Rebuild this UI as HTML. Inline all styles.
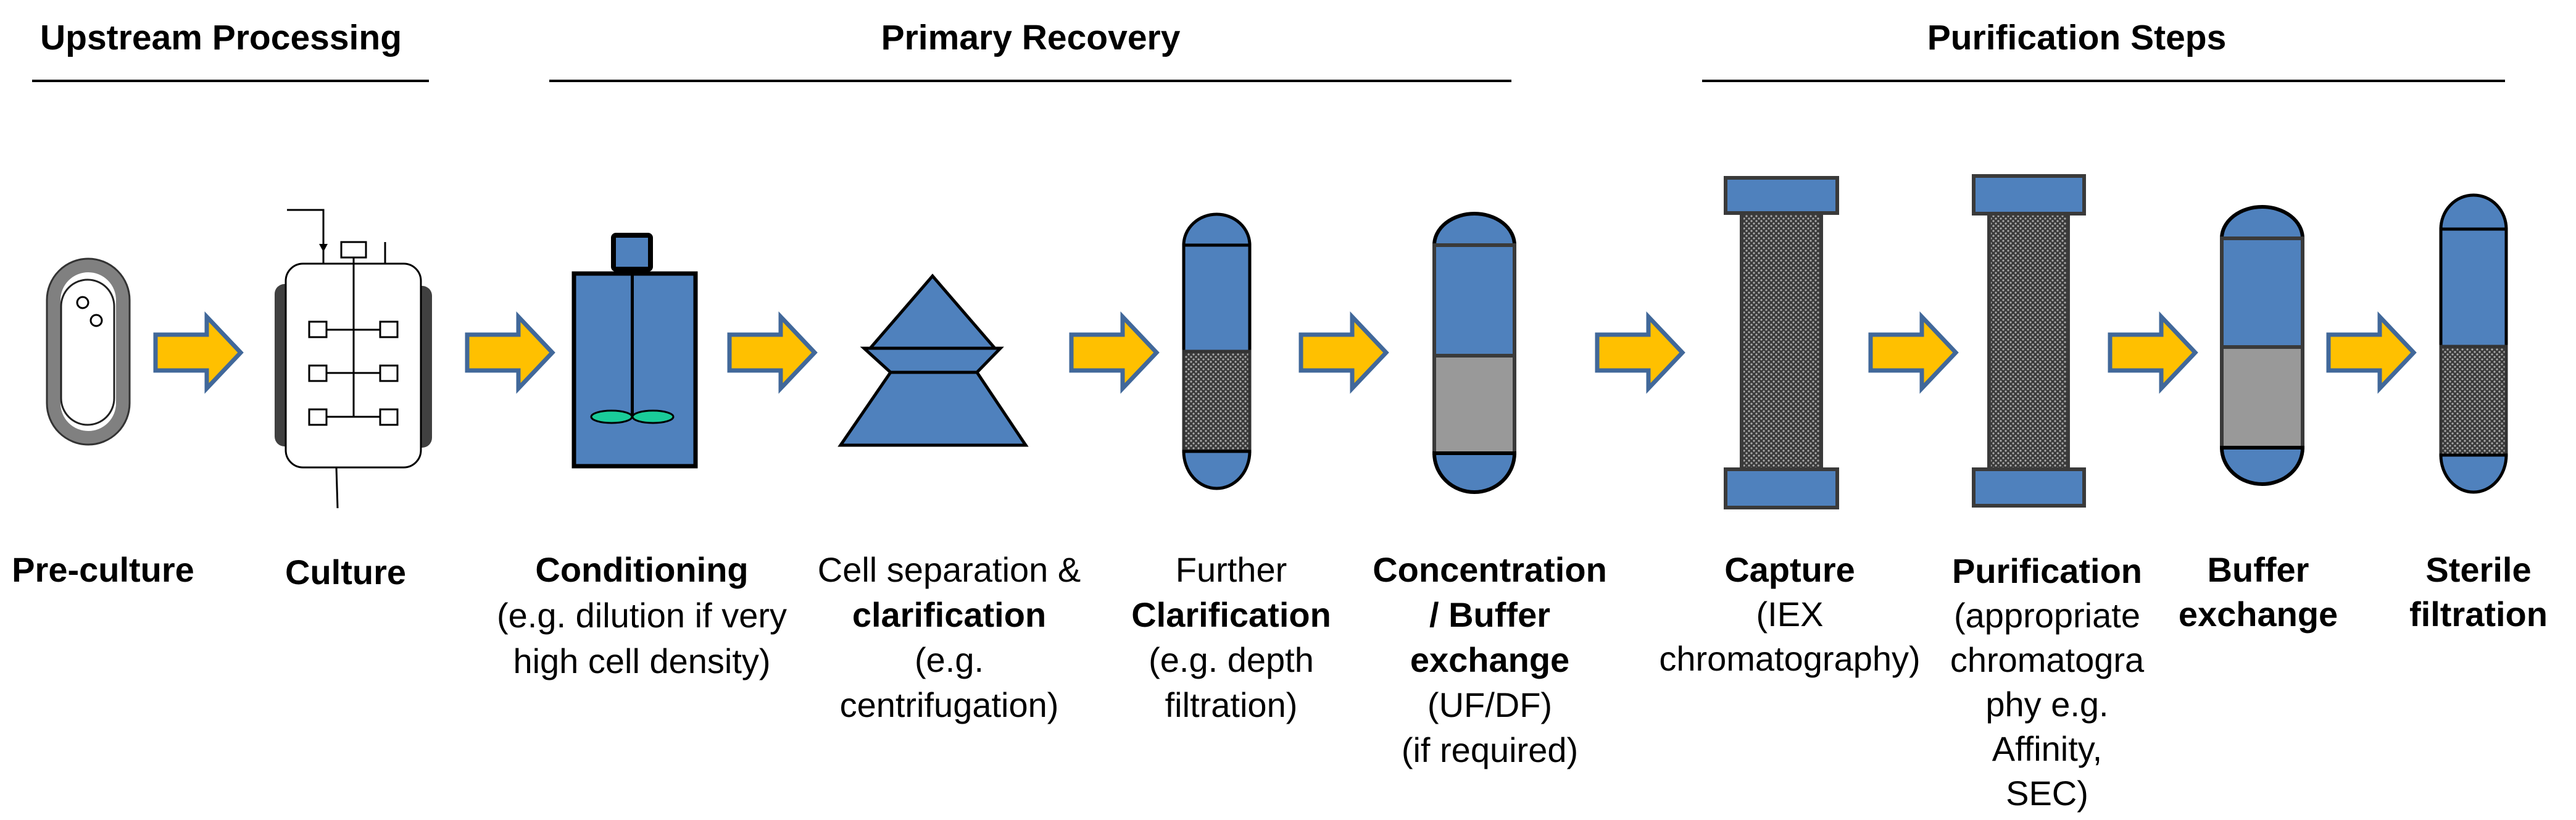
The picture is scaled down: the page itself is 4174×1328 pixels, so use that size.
<!DOCTYPE html>
<html><head><meta charset="utf-8"><style>
html,body{margin:0;padding:0;background:#fff;}
svg{display:block;}
text{font-family:"Liberation Sans",Arial,sans-serif;font-size:56px;fill:#000;}
.b{font-weight:bold;}
</style></head><body>
<svg width="4174" height="1328" viewBox="0 0 4174 1328" xmlns="http://www.w3.org/2000/svg">
<defs>
<pattern id="mesh" width="8" height="8" patternUnits="userSpaceOnUse">
<rect width="8" height="8" fill="#3a3a3a"/>
<circle cx="2" cy="2" r="1.6" fill="#aaa"/>
<circle cx="6" cy="6" r="1.6" fill="#aaa"/>
</pattern>
<g id="arr">
<path d="M0,542 L83,542 L83,513 L138,571 L83,629 L83,600 L0,600 Z" fill="#FFC000" stroke="#41689A" stroke-width="7" stroke-linejoin="miter"/>
</g>
</defs>

<!-- headers -->
<text class="b" x="358" y="80" text-anchor="middle" style="font-size:57px">Upstream Processing</text>
<rect x="52" y="129" width="643" height="4" fill="#000"/>
<text class="b" x="1670" y="80" text-anchor="middle" style="font-size:57px">Primary Recovery</text>
<rect x="890" y="129" width="1559" height="4" fill="#000"/>
<text class="b" x="3365" y="80" text-anchor="middle" style="font-size:57px">Purification Steps</text>
<rect x="2758" y="129" width="1301" height="4" fill="#000"/>

<!-- pre-culture tube -->
<rect x="87" y="430" width="112" height="279" rx="56" fill="#fff" stroke="#808080" stroke-width="22"/>
<rect x="76" y="419" width="134" height="301" rx="67" fill="none" stroke="#333" stroke-width="3"/>
<rect x="99" y="453" width="86" height="235" rx="43" fill="#fff" stroke="#222" stroke-width="3"/>
<circle cx="134" cy="490" r="9" fill="#fff" stroke="#000" stroke-width="3"/>
<circle cx="156" cy="519" r="9" fill="#fff" stroke="#000" stroke-width="3"/>

<use href="#arr" transform="translate(252,0)"/>

<!-- culture vessel -->
<rect x="445" y="460" width="36" height="263" rx="16" fill="#404040"/>
<rect x="664" y="463" width="36" height="262" rx="16" fill="#404040"/>
<rect x="463" y="427" width="219" height="330" rx="28" fill="#fff" stroke="#000" stroke-width="3"/>
<polyline points="465,340 524,340 524,427" fill="none" stroke="#000" stroke-width="3"/>
<polygon points="517,395 531,395 524,408" fill="#000"/>
<rect x="553" y="392" width="40" height="25" fill="#fff" stroke="#000" stroke-width="3"/>
<line x1="624" y1="392" x2="624" y2="427" stroke="#000" stroke-width="3"/>
<line x1="573" y1="417" x2="573" y2="675" stroke="#000" stroke-width="3"/>
<g fill="#fff" stroke="#000" stroke-width="3">
<line x1="529" y1="534" x2="616" y2="534"/><line x1="529" y1="604" x2="616" y2="604"/><line x1="529" y1="675" x2="616" y2="675"/>
<rect x="501" y="521" width="28" height="25"/><rect x="616" y="521" width="28" height="25"/>
<rect x="501" y="592" width="28" height="25"/><rect x="616" y="592" width="28" height="25"/>
<rect x="501" y="663" width="28" height="25"/><rect x="616" y="663" width="28" height="25"/>
</g>
<line x1="545" y1="757" x2="547" y2="823" stroke="#000" stroke-width="3"/>

<use href="#arr" transform="translate(757,0)"/>

<!-- conditioning tank -->
<rect x="930" y="443" width="197" height="312" fill="#4F81BD" stroke="#000" stroke-width="7"/>
<rect x="994" y="381" width="60" height="55" rx="4" fill="#4F81BD" stroke="#000" stroke-width="8"/>
<rect x="1022" y="440" width="5" height="235" fill="#000"/>
<ellipse cx="991" cy="675" rx="33" ry="10" fill="#1ACC99" stroke="#000" stroke-width="3"/>
<ellipse cx="1058" cy="675" rx="33" ry="10" fill="#1ACC99" stroke="#000" stroke-width="3"/>

<use href="#arr" transform="translate(1182,0)"/>

<!-- centrifuge -->
<g fill="#4F81BD" stroke="#000" stroke-width="5" stroke-linejoin="miter">
<polygon points="1511,447 1410,564 1612,564"/>
<polygon points="1400,564 1621,564 1583,603 1443,603"/>
<polygon points="1443,603 1583,603 1662,721 1362,721"/>
</g>

<use href="#arr" transform="translate(1736,0)"/>

<!-- column A -->
<g stroke="#000" stroke-width="5">
<path d="M1918,397 A53.5,50 0 0 1 2025,397 Z" fill="#4F81BD"/>
<rect x="1918" y="397" width="107" height="172" fill="#4F81BD"/>
<rect x="1918" y="569" width="107" height="162" fill="url(#mesh)" stroke="#333"/>
<path d="M1918,731 A53.5,60 0 0 0 2025,731 Z" fill="#4F81BD"/>
</g>

<use href="#arr" transform="translate(2108,0)"/>

<!-- column B -->
<g stroke="#3a3a3a" stroke-width="6">
<path d="M2324,397 A65,51 0 0 1 2454,397 Z" fill="#4F81BD" stroke="#000"/>
<rect x="2324" y="397" width="130" height="179" fill="#4F81BD"/>
<rect x="2324" y="576" width="130" height="158" fill="#999"/>
<path d="M2324,734 A65,63 0 0 0 2454,734 Z" fill="#4F81BD" stroke="#000"/>
</g>

<use href="#arr" transform="translate(2588,0)"/>

<!-- capture column -->
<g stroke="#3a3a3a" stroke-width="6">
<rect x="2822" y="345" width="129" height="415" fill="url(#mesh)"/>
<rect x="2796" y="288" width="181" height="57" fill="#4F81BD"/>
<rect x="2796" y="760" width="181" height="62" fill="#4F81BD"/>
</g>

<use href="#arr" transform="translate(3031,0)"/>

<!-- purification column -->
<g stroke="#3a3a3a" stroke-width="6">
<rect x="3223" y="346" width="128" height="414" fill="url(#mesh)"/>
<rect x="3198" y="285" width="179" height="61" fill="#4F81BD"/>
<rect x="3198" y="760" width="179" height="59" fill="#4F81BD"/>
</g>

<use href="#arr" transform="translate(3419,0)"/>

<!-- buffer column -->
<g stroke="#3a3a3a" stroke-width="6">
<path d="M3600,386 A65.5,51 0 0 1 3731,386 Z" fill="#4F81BD" stroke="#000"/>
<rect x="3600" y="386" width="131" height="176" fill="#4F81BD"/>
<rect x="3600" y="562" width="131" height="163" fill="#999"/>
<path d="M3600,725 A65.5,59 0 0 0 3731,725 Z" fill="#4F81BD" stroke="#000"/>
</g>

<use href="#arr" transform="translate(3773,0)"/>

<!-- sterile column -->
<g stroke="#000" stroke-width="5">
<path d="M3955,371 A53,55 0 0 1 4061,371 Z" fill="#4F81BD"/>
<rect x="3955" y="371" width="106" height="190" fill="#4F81BD"/>
<rect x="3955" y="561" width="106" height="176" fill="url(#mesh)" stroke="#333"/>
<path d="M3955,737 A53,60 0 0 0 4061,737 Z" fill="#4F81BD"/>
</g>

<!-- labels -->
<text class="b" x="167" y="942" text-anchor="middle">Pre-culture</text>
<text class="b" x="560" y="946" text-anchor="middle">Culture</text>

<text x="1040" y="942" text-anchor="middle"><tspan class="b">Conditioning</tspan><tspan x="1040" dy="74">(e.g. dilution if very</tspan><tspan x="1040" dy="74">high cell density)</tspan></text>

<text x="1538" y="942" text-anchor="middle">Cell separation &amp;<tspan x="1538" dy="73" class="b">clarification</tspan><tspan x="1538" dy="73">(e.g.</tspan><tspan x="1538" dy="73">centrifugation)</tspan></text>

<text x="1995" y="942" text-anchor="middle">Further<tspan x="1995" dy="73" class="b">Clarification</tspan><tspan x="1995" dy="73">(e.g. depth</tspan><tspan x="1995" dy="73">filtration)</tspan></text>

<text x="2414" y="942" text-anchor="middle"><tspan class="b">Concentration</tspan><tspan x="2414" dy="73" class="b">/ Buffer</tspan><tspan x="2414" dy="73" class="b">exchange</tspan><tspan x="2414" dy="73">(UF/DF)</tspan><tspan x="2414" dy="73">(if required)</tspan></text>

<text x="2900" y="942" text-anchor="middle"><tspan class="b">Capture</tspan><tspan x="2900" dy="72">(IEX</tspan><tspan x="2900" dy="72">chromatography)</tspan></text>

<text x="3317" y="944" text-anchor="middle"><tspan class="b">Purification</tspan><tspan x="3317" dy="72">(appropriate</tspan><tspan x="3317" dy="72">chromatogra</tspan><tspan x="3317" dy="72">phy e.g.</tspan><tspan x="3317" dy="72">Affinity,</tspan><tspan x="3317" dy="72">SEC)</tspan></text>

<text x="3659" y="942" text-anchor="middle"><tspan class="b">Buffer</tspan><tspan x="3659" dy="72" class="b">exchange</tspan></text>

<text x="4016" y="942" text-anchor="middle"><tspan class="b">Sterile</tspan><tspan x="4016" dy="72" class="b">filtration</tspan></text>
</svg>
</body></html>
